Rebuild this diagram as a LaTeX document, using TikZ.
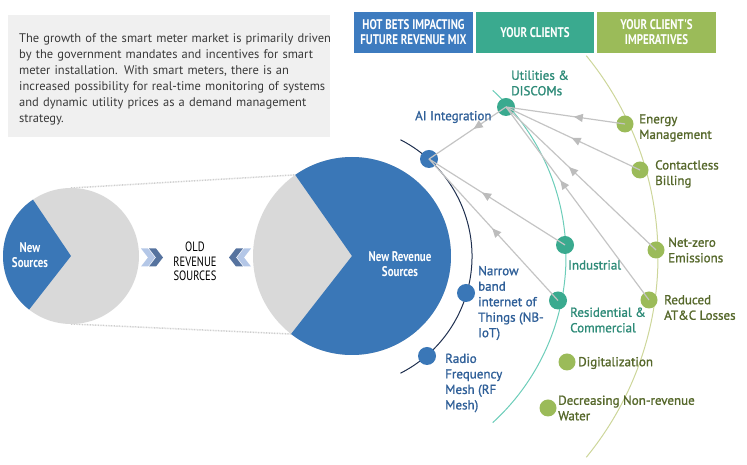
\documentclass[tikz,border=0pt]{standalone}
\usepackage{fontspec}
\setmainfont{PT Sans}
\newfontfamily\condfont[FakeStretch=0.78]{PT Sans}
\newfontfamily\lblfont[FakeBold=1.2]{PT Sans}
\usetikzlibrary{arrows.meta,decorations.markings,calc}
\definecolor{boxgray}{HTML}{F0F0F0}
\definecolor{txtgray}{HTML}{3A3A3A}
\definecolor{hdrblue}{HTML}{3D7BBF}
\definecolor{hdrteal}{HTML}{3AAA8F}
\definecolor{hdrgreen}{HTML}{9BBB59}
\definecolor{pieblue}{HTML}{3A77B7}
\definecolor{piegray}{HTML}{D9D9D9}
\definecolor{dotline}{HTML}{CDCDCD}
\definecolor{chevlight}{HTML}{B4C7E7}
\definecolor{chevdark}{HTML}{56739F}
\definecolor{navy}{HTML}{1F2F4F}
\definecolor{arcteal}{HTML}{6CCDB9}
\definecolor{arcgreen}{HTML}{CDD69A}
\definecolor{dotblue}{HTML}{3A77B7}
\definecolor{dotteal}{HTML}{3AAA8F}
\definecolor{dotgreen}{HTML}{9BBB59}
\definecolor{lblblue}{HTML}{2F5F98}
\definecolor{lblteal}{HTML}{2E8B78}
\definecolor{lblgreen}{HTML}{56682B}
\definecolor{conngray}{HTML}{C4C4C4}
\definecolor{arrgray}{HTML}{BCBCBC}
\begin{document}
\begin{tikzpicture}[x=1pt,y=1pt,
  lbl/.style={inner sep=0pt, align=left, anchor=west, font=\lblfont\fontsize{13}{15.5}\selectfont},
  bluelbl/.style={lbl, text=lblblue},
  teallbl/.style={lbl, text=lblteal},
  greenlbl/.style={lbl, text=lblgreen},
  bdot/.style={circle, fill=dotblue, minimum size=18pt, inner sep=0pt},
  tdot/.style={circle, fill=dotteal, minimum size=18pt, inner sep=0pt},
  gdot/.style={circle, fill=dotgreen, minimum size=17pt, inner sep=0pt},
  hdr/.style={minimum width=118.5pt, minimum height=41pt, inner sep=0pt, text=white, align=center, font=\condfont\bfseries\fontsize{14}{15}\selectfont},
  pietext/.style={inner sep=0pt, align=center, text=white, font=\condfont\bfseries\fontsize{14}{15}\selectfont},
  dotted line/.style={draw=dotline, line width=1.5pt, dash pattern=on 0.8pt off 0.8pt},
  conn/.style={draw=conngray, line width=1.2pt, postaction={decorate, decoration={markings, mark=at position #1 with {\arrow{Triangle[length=9pt,width=8pt,color=arrgray]}}}}},
]
\useasboundingbox (0,0) rectangle (747,465);
\coordinate (A) at (341,208.5);
\coordinate (C) at (352,209);
\coordinate (L) at (71,209);

% text box
\node[fill=boxgray, minimum width=322pt, minimum height=122pt, anchor=north west, inner sep=0pt] (box) at (8,450) {};
\node[anchor=north west, text width=315pt, align=left, inner sep=0pt, text=txtgray, font=\fontsize{12.5}{16}\selectfont] (para) at (19,432)
 {The growth of the smart meter market is primarily driven\\
  by the government mandates and incentives for smart\\
  meter installation. With smart meters, there is an\\
  increased possibility for real-time monitoring of systems\\
  and dynamic utility prices as a demand management\\
  strategy.};

% headers
\node[hdr, fill=hdrblue] (h1) at (413.5,432.5) {HOT BETS IMPACTING\\FUTURE REVENUE MIX};
\node[hdr, fill=hdrteal] (h2) at (535,432.5) {YOUR CLIENTS};
\node[hdr, fill=hdrgreen] (h3) at (656.5,432.5) {YOUR CLIENT'S\\IMPERATIVES};

% dotted guide lines
\coordinate (ltop) at ($(L)+(90:68)$);
\coordinate (lbot) at ($(L)+(270:68)$);
\coordinate (btop) at ($(C)+(125:99)$);
\coordinate (bbot) at ($(C)+(232:99)$);
\draw[dotted line] (ltop) -- (btop);
\draw[dotted line] (lbot) -- (bbot);

% left pie
\fill[piegray] (L) circle[radius=68];
\fill[pieblue] (L) -- ++(124:68) arc[start angle=124, end angle=232, radius=68] -- cycle;
\node[pietext] (ns) at (30,209.5) {New\\Sources};

% big pie
\fill[piegray] (C) circle[radius=99];
\fill[pieblue] (C) -- ++(232:99) arc[start angle=232, end angle=485, radius=99] -- cycle;
\node[pietext] (nrs) at (400,200.5) {New Revenue\\Sources};

% old revenue sources
\node[inner sep=0pt, align=center, text=black, font=\condfont\fontsize{13.5}{14.5}\selectfont] (old) at (195,203.5) {OLD\\REVENUE\\SOURCES};
\fill[chevlight] (141,216.5) -- ++(7,0) -- ++(7,-9) -- ++(-7,-9) -- ++(-7,0) -- ++(7,9) -- cycle;
\fill[chevdark] (149,216.5) -- ++(7,0) -- ++(7,-9) -- ++(-7,-9) -- ++(-7,0) -- ++(7,9) -- cycle;
\fill[chevdark] (243,216.5) -- ++(-7,0) -- ++(-7,-9) -- ++(7,-9) -- ++(7,0) -- ++(-7,9) -- cycle;
\fill[chevlight] (251,216.5) -- ++(-7,0) -- ++(-7,-9) -- ++(7,-9) -- ++(7,0) -- ++(-7,9) -- cycle;

% arcs
\draw[navy, line width=1pt] (A) ++(-63:131) arc[start angle=-63, end angle=63, radius=131];
\draw[arcteal, line width=1pt] (A) ++(-47.6:225) arc[start angle=-47.6, end angle=47.6, radius=225];
\draw[arcgreen, line width=1pt] (A) ++(-39.3:317) arc[start angle=-39.3, end angle=39.3, radius=317];

% dots
\node[bdot] (ai) at (429,306) {};
\node[bdot] (nb) at (466,172) {};
\node[bdot] (rf) at (427,109) {};
\node[tdot] (ut) at (506,358) {};
\node[tdot] (ind) at (565,220) {};
\node[tdot] (res) at (558,164.5) {};
\node[gdot] (en) at (625,341) {};
\node[gdot] (cb) at (640,295) {};
\node[gdot] (nz) at (656,215) {};
\node[gdot] (rd) at (649,165) {};
\node[gdot] (dg) at (567,103) {};
\node[gdot] (dw) at (548,57) {};

% connectors
\draw[conn=0.43] (en.center) -- (ut.center);
\draw[conn=0.51] (cb.center) -- (ut.center);
\draw[conn=0.58] (nz.center) -- (ut.center);
\draw[conn=0.62] (rd.center) -- (ut.center);
\draw[conn=0.42] (ut.center) -- (ai.center);
\draw[conn=0.61] (ind.center) -- (ai.center);
\draw[conn=0.51] (res.center) -- (ai.center);

% labels
\node[teallbl] (lut) at (511,382) {Utilities \&\\DISCOMs};
\node[bluelbl] (lai) at (415,348) {AI Integration};
\node[bluelbl] (lnb) at (478,162) {Narrow\\band\\internet of\\Things (NB-\\IoT)};
\node[bluelbl] (lrf) at (445,82) {Radio\\Frequency\\Mesh (RF\\Mesh)};
\node[teallbl] (lind) at (568,200) {Industrial};
\node[teallbl] (lres) at (570,145) {Residential \&\\Commercial};
\node[greenlbl] (len) at (639,337) {Energy\\Management};
\node[greenlbl] (lcb) at (655,291) {Contactless\\Billing};
\node[greenlbl] (lnz) at (668,215) {Net-zero\\Emissions};
\node[greenlbl] (lrd) at (664,157.5) {Reduced\\AT\&C Losses};
\node[greenlbl] (ldg) at (578,102) {Digitalization};
\node[greenlbl] (ldw) at (558,57) {Decreasing Non-revenue\\Water};
\end{tikzpicture}
\end{document}
